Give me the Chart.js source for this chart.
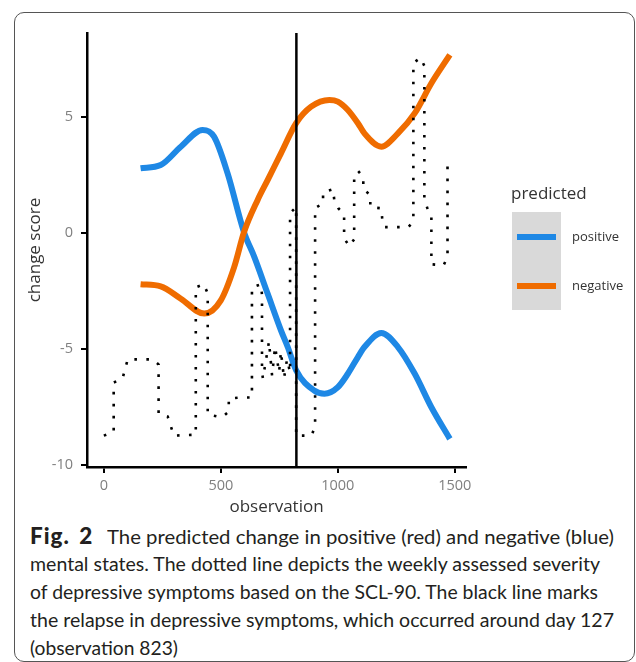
<!DOCTYPE html>
<html>
<head>
<meta charset="utf-8">
<script src="https://cdn.jsdelivr.net/npm/chart.js@4"></script>
<style>
  html, body { margin: 0; padding: 0; background: #fff; }
  body { width: 636px; height: 662px; position: relative; overflow: hidden; }
  #frame { position: absolute; left: 14px; top: 12px; width: 621px; height: 650px; border: 1px solid #555; border-radius: 10px; box-sizing: border-box; }
  #chart { position: absolute; left: 0; top: 0; }
  #caption { position: absolute; left: 30px; top: 522px; font-family: 'Lato', sans-serif; font-size: 19.5px; line-height: 28px; color: #231f20; white-space: nowrap; }
  #caption div { height: 28px; }
  #caption b { display: inline-block; width: 77px; font-size: 22.5px; font-weight: 900; letter-spacing: 1px; word-spacing: 3px; }
  #caption .fit { display: inline-block; transform-origin: 0 50%; }
</style>
</head>
<body>
<div id="frame"></div>
<canvas id="chart" width="636" height="520"></canvas>
<div id="caption">
  <div><b>Fig. 2</b><span class="fit" data-w="507">The predicted change in positive (red) and negative (blue)</span></div>
  <div><span class="fit" data-w="570">mental states. The dotted line depicts the weekly assessed severity</span></div>
  <div><span class="fit" data-w="568">of depressive symptoms based on the SCL-90. The black line marks</span></div>
  <div><span class="fit" data-w="584">the relapse in depressive symptoms, which occurred around day 127</span></div>
  <div><span class="fit" data-w="148">(observation 823)</span></div>
</div>
<script>
// axis ticks and the relapse marker
const xTicks = [0, 500, 1000, 1500];
const yTicks = [-10, -5, 0, 5];
const relapseObs = 823;

// predicted series
const seriesNames = ['positive', 'negative'];
const seriesColors = ['#1e88e5', '#ef6c00'];

const posObs = [157, 243, 329, 422, 471, 529, 599, 643, 700, 757, 786, 822, 899, 943, 1000, 1043, 1086, 1114, 1186, 1257, 1329, 1400, 1479];
const posVal = [2.78, 2.92, 3.71, 4.43, 4.14, 2.56, 0.03, -1.03, -2.61, -4.19, -4.91, -5.91, -6.78, -6.92, -6.64, -6.06, -5.34, -4.91, -4.31, -4.91, -6.06, -7.5, -8.86];

const negObs = [157, 243, 329, 429, 500, 557, 599, 657, 700, 757, 822, 886, 964, 1000, 1043, 1086, 1114, 1186, 1257, 1329, 1400, 1479];
const negVal = [-2.21, -2.3, -2.83, -3.47, -2.9, -1.47, 0.03, 1.41, 2.27, 3.42, 4.72, 5.43, 5.72, 5.65, 5.29, 4.72, 4.28, 3.71, 4.28, 5.15, 6.44, 7.66];

// weekly SCL-90 severity (dotted)
const sclObs = [0, 42, 42, 80, 102, 209, 234, 234, 273, 299, 393, 393, 427, 444, 444, 487, 509, 534, 534, 581, 633, 633, 672, 676, 676, 680,
  706, 719, 732, 749, 757, 770, 783, 796, 796, 822, 822, 886, 903, 903, 937, 937, 980, 985, 1002, 1027, 1027, 1049, 1070, 1070,
  1087, 1109, 1109, 1139, 1139, 1186, 1190, 1199, 1302, 1323, 1323, 1353, 1370, 1370, 1383, 1400, 1400, 1452, 1469, 1469];
const sclVal = [-8.72, -8.56, -6.44, -6.26, -5.44, -5.44, -5.66, -7.77, -7.9, -8.72, -8.68, -2.34, -2.21, -2.6, -7.81, -7.9, -7.9, -7.68, -7.13, -7.08, -7.08, -2.34, -2.21, -2.68, -6.0, -6.26,
  -4.67, -6.13, -4.9, -6.0, -5.1, -6.26, -5.44, -6.0, 0.85, 1.11, -8.72, -8.72, -8.37, 1.06, 1.28, 1.75, 1.88, 1.41, 1.06, 0.81, -0.23, -0.57, -0.27, 2.31,
  2.66, 2.4, 1.88, 1.63, 1.11, 1.06, 0.59, 0.25, 0.25, 0.5, 7.31, 7.53, 7.19, 1.45, 1.06, 0.72, -1.35, -1.39, -1.05, 3.09];

const toPoints = (xs, ys) => xs.map((x, i) => ({ x: x, y: ys[i] }));

// black relapse line
const relapseLine = {
  id: 'relapseLine',
  afterDatasetsDraw(chart) {
    const { ctx, chartArea } = chart;
    const x = chart.scales.x.getPixelForValue(relapseObs);
    ctx.save();
    ctx.strokeStyle = '#000';
    ctx.lineWidth = 2.5;
    ctx.beginPath();
    ctx.moveTo(x, chartArea.top);
    ctx.lineTo(x, chartArea.bottom);
    ctx.stroke();
    ctx.restore();
  }
};

// ggplot style legend on the right
const predictedLegend = {
  id: 'predictedLegend',
  afterDraw(chart) {
    const ctx = chart.ctx;
    ctx.save();
    ctx.textBaseline = 'middle';
    ctx.textAlign = 'left';
    ctx.fillStyle = '#333';
    ctx.font = "17px 'Open Sans', sans-serif";
    ctx.fillText('predicted', 511, 194);
    ctx.fillStyle = '#d9d9d9';
    ctx.fillRect(512, 212, 49, 98);
    seriesNames.forEach((name, i) => {
      const y = 237 + i * 49;
      ctx.strokeStyle = seriesColors[i];
      ctx.lineWidth = 6;
      ctx.beginPath();
      ctx.moveTo(517, y);
      ctx.lineTo(556, y);
      ctx.stroke();
      ctx.fillStyle = '#333';
      ctx.font = "13px 'Open Sans', sans-serif";
      ctx.fillText(name, 572, y);
    });
    ctx.restore();
  }
};

Chart.defaults.font.family = "'Open Sans', sans-serif";

const ctx = document.getElementById('chart').getContext('2d');
const chart = new Chart(ctx, {
  type: 'line',
  data: {
    datasets: [{
      label: 'SCL-90',
      data: toPoints(sclObs, sclVal),
      borderColor: '#000',
      borderWidth: 2.6,
      borderDash: [2.6, 9.4],
      pointRadius: 0,
      tension: 0,
      order: 0
    }, {
      label: seriesNames[1],
      data: toPoints(negObs, negVal),
      borderColor: seriesColors[1],
      borderWidth: 6,
      pointRadius: 0,
      cubicInterpolationMode: 'monotone',
      order: 1
    }, {
      label: seriesNames[0],
      data: toPoints(posObs, posVal),
      borderColor: seriesColors[0],
      borderWidth: 6,
      pointRadius: 0,
      cubicInterpolationMode: 'monotone',
      order: 2
    }]
  },
  options: {
    responsive: false,
    animation: false,
    devicePixelRatio: 1,
    layout: { padding: { left: 0, top: 33, right: 170, bottom: 0 } },
    plugins: {
      legend: { display: false },
      tooltip: { enabled: false }
    },
    scales: {
      x: {
        type: 'linear',
        min: -72,
        max: 1548,
        afterBuildTicks: s => { s.ticks = xTicks.map(v => ({ value: v })); },
        afterFit: s => { s.height = 53; },
        border: { display: true, color: '#000', width: 2.5 },
        grid: { drawOnChartArea: false, drawTicks: true, tickLength: 6, color: '#000', lineWidth: 2 },
        ticks: { color: '#7f7f7f', font: { size: 14.5 }, padding: 4, maxRotation: 0, callback: v => String(v) },
        title: { display: true, text: 'observation', color: '#333', font: { size: 17 }, padding: { top: 0, bottom: 3 } }
      },
      y: {
        type: 'linear',
        min: -10.07,
        max: 8.6,
        afterBuildTicks: s => { s.ticks = yTicks.map(v => ({ value: v })); },
        afterFit: s => { s.width = 87; },
        border: { display: true, color: '#000', width: 2.5 },
        grid: { drawOnChartArea: false, drawTicks: true, tickLength: 6, color: '#000', lineWidth: 2 },
        ticks: { color: '#7f7f7f', font: { size: 14.5 }, padding: 8, callback: v => String(v) },
        title: { display: true, text: 'change score', color: '#333', font: { size: 17 }, padding: { top: 25, bottom: 0 } }
      }
    }
  },
  plugins: [relapseLine, predictedLegend]
});

// stretch each caption line to the width it has in the figure
document.querySelectorAll('#caption .fit').forEach(el => {
  const w = el.getBoundingClientRect().width;
  el.style.transform = 'scaleX(' + (Number(el.dataset.w) / w) + ')';
});
</script>
</body>
</html>
